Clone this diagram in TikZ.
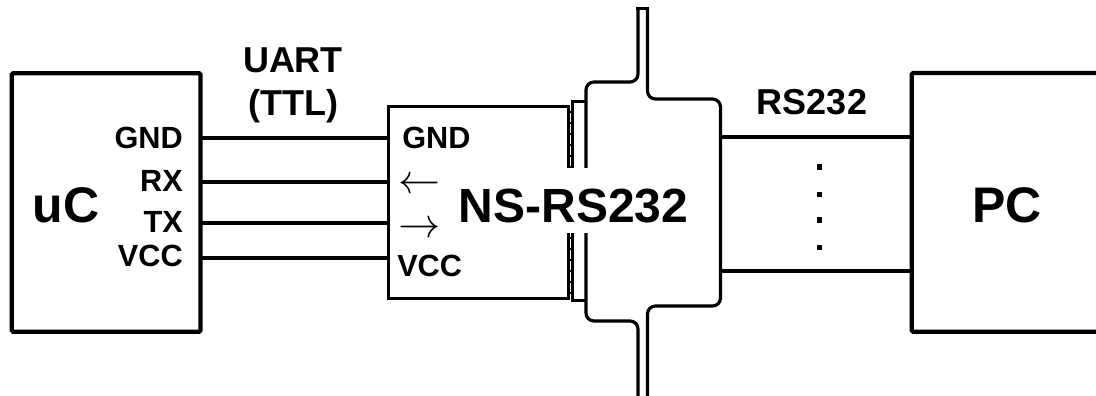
\documentclass[tikz,border=0pt]{standalone}
\usepackage{fontspec}
\setmainfont{Liberation Sans}
\newfontfamily\lmm{Latin Modern Math}
\begin{document}
\begin{tikzpicture}[x=0.75pt,y=-0.75pt,
  box/.style={draw,line width=3.1pt,inner sep=0pt,outer sep=0pt,rounded corners=1pt},
  wire/.style={line width=3pt},
  pin/.style={font=\fontsize{23}{27}\selectfont\bfseries,inner sep=0pt},
  big/.style={font=\fontsize{37.5}{45}\selectfont\bfseries,inner sep=0pt},
  lab/.style={font=\fontsize{27}{32.25}\selectfont\bfseries,inner sep=0pt,align=center},
  shell/.style={line width=2.4pt,rounded corners=6pt},
  arr/.style={font=\fontsize{31.5}{36}\selectfont\lmm,inner sep=0pt},
  dotmark/.style={fill=black,inner sep=0pt,outer sep=0pt,minimum size=4.1pt},
]
\useasboundingbox (0,0) rectangle (1096,396);
% boxes
\node[box,minimum width=141.6pt,minimum height=193.8pt] (uc) at (106.1,202.5) {};
\node[draw,line width=2.3pt,inner sep=0pt,outer sep=0pt,minimum width=134.7pt,minimum height=144pt] (mod) at (478.3,202.3) {};
\coordinate (pc) at (911.7,202.3);
\coordinate (br) at (720.5,202.3);
% wire heights
\coordinate (h1) at (0,138);
\coordinate (h2) at (0,181.7);
\coordinate (h3) at (0,223.3);
\coordinate (h4) at (0,257.7);
\coordinate (r1) at (0,137);
\coordinate (r2) at (0,271);
% UART wires
\draw[wire] (uc.east |- h1) -- (mod.west |- h1);
\draw[wire] (uc.east |- h2) -- (mod.west |- h2);
\draw[wire] (uc.east |- h3) -- (mod.west |- h3);
\draw[wire] (uc.east |- h4) -- (mod.west |- h4);
% RS232 wires
\draw[wire] (br |- r1) -- (pc |- r1);
\draw[wire] (br |- r2) -- (pc |- r2);
% PC box (open to the right)
\draw[line width=3.1pt,rounded corners=1pt] (1096,73) -- (911.7,73) -- (911.7,331.7) -- (1096,331.7);
% connector shell
\draw[shell] (638,396) -- (638,321) -- (586,321) -- (586,82) -- (638,82) -- (638,8.5);
\draw[shell] (647.5,8.5) -- (647.5,99) -- (720.5,99) -- (720.5,306) -- (647.5,306) -- (647.5,396);
\draw[line width=2.4pt,line cap=rect] (638,8.5) -- (647.5,8.5);
% flange and ladder
\draw[line width=2.2pt] (572.3,101.5) rectangle (586,300.5);
\foreach \yy in {112,123,134,145,156,167,238,249,260,271,282,293}
  \draw[line width=2pt] (568,\yy) -- (572.3,\yy);
% labels
\node[big] (tuc) at (66,205) {uC};
\node[big] (tpc) at (1007,205) {PC};
\node[lab] (tuart) at (293,85.4) {UART\\(TTL)};
\node[lab] (trs) at (812,102.5) {RS232};
\node[pin,anchor=east] (pgnd) at (183,137.5) {GND};
\node[pin,anchor=east] (prx) at (183,180.5) {RX};
\node[pin,anchor=east] (ptx) at (183,222) {TX};
\node[pin,anchor=east] (pvcc) at (183,256) {VCC};
\node[pin,anchor=west] (mgnd) at (402,137.5) {GND};
\node[pin,anchor=west] (mvcc) at (397,266) {VCC};
\node[arr] (al) at (419,183) {←};
\node[arr] (ar) at (419,227) {→};
\node[fill=white,inner xsep=3pt,inner ysep=0pt,text height=40.5pt,text depth=8.25pt,font=\fontsize{36}{43}\selectfont\bfseries] (ns) at (573.5,200.5) {NS-RS232};
% vertical ellipsis between the RS232 lines
\node[dotmark] (d1) at (819.5,167) {};
\node[dotmark] (d2) at (819.5,194.5) {};
\node[dotmark] (d3) at (819.5,220) {};
\node[dotmark] (d4) at (819.5,247.3) {};
\end{tikzpicture}
\end{document}
